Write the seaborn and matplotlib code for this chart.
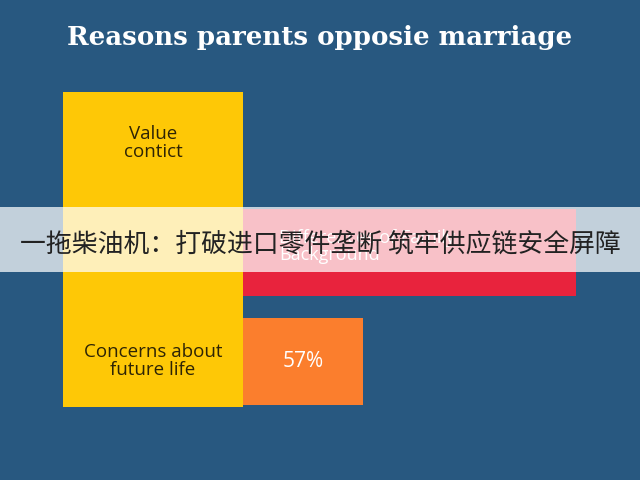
import matplotlib
matplotlib.use("Agg")
import matplotlib.pyplot as plt
import seaborn as sns

# data
categories = ["Value\ncontict", "Differences of Family\nBackground", "Concerns about\nfuture life"]
bar_values = [0, 158, 57]
bar_labels = ["", "", "57%"]
bar_colors = ["#fec806", "#e8233d", "#fb7e2d"]
title = "Reasons parents opposie marriage"
banner = "一拖柴油机：打破进口零件垄断 筑牢供应链安全屏障"

bg = "#285880"
sns.set_theme(style="white")
plt.rcParams["font.family"] = ["Open Sans", "DejaVu Sans"]

fig = plt.figure(figsize=(6.4, 4.8), dpi=100)
fig.patch.set_facecolor(bg)

ylim = (2.42, -0.47)

# yellow label column
lab_ax = fig.add_axes([63 / 640, 1 - 407 / 480, 180 / 640, 315 / 480])
lab_ax.set_facecolor("#fec806")
lab_ax.set_xlim(0, 1)
lab_ax.set_ylim(*ylim)
lab_ax.set_xticks([])
lab_ax.set_yticks([])
for s in lab_ax.spines.values():
    s.set_visible(False)
for i in (0, 2):
    lab_ax.text(0.5, i, categories[i], ha="center", va="center",
                fontsize=13.5, color="#2e2405", linespacing=1.0)

# bars
ax = fig.add_axes([243 / 640, 1 - 407 / 480, 397 / 640, 315 / 480])
ax.set_facecolor("none")
sns.barplot(x=bar_values, y=list(range(len(categories))), hue=categories,
            palette=bar_colors, orient="h", width=0.8, legend=False,
            ax=ax, saturation=1, native_scale=True, linewidth=0)
ax.set_xlim(0, 397 / 2.105)
ax.set_ylim(*ylim)
ax.set_xticks([])
ax.set_yticks([])
ax.set_xlabel("")
ax.set_ylabel("")
for s in ax.spines.values():
    s.set_visible(False)

ax.text(17, 0.95, categories[1], ha="left", va="center", fontsize=13,
        color="white", linespacing=0.95)
for i, lbl in enumerate(bar_labels):
    if lbl:
        ax.text(bar_values[i] / 2, i, lbl, ha="center", va="center",
                fontsize=15, color="white")

fig.text(0.5, 1 - 38 / 480, title, ha="center", va="center",
         fontsize=18.7, fontweight="bold", color="white", family="DejaVu Serif")

# semi-transparent banner
ban = fig.add_axes([0, 1 - 272 / 480, 1, 65 / 480])
ban.patch.set_facecolor("white")
ban.patch.set_alpha(0.72)
ban.set_xticks([])
ban.set_yticks([])
for s in ban.spines.values():
    s.set_visible(False)
ban.text(0.5, 0.43, banner, ha="center", va="center", fontsize=18.6,
         color="#222222", family=["Noto Sans CJK SC", "DejaVu Sans"],
         transform=ban.transAxes)

fig.savefig("out.png", dpi=100, facecolor=bg)
